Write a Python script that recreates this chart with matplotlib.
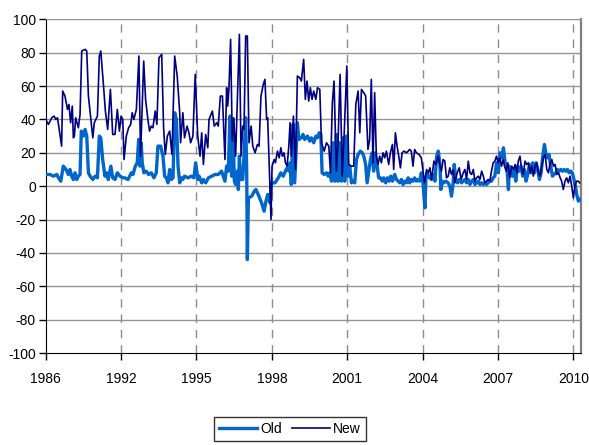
import matplotlib.pyplot as plt
import numpy as np

plt.rcParams['font.family'] = ['Liberation Sans', 'DejaVu Sans']
plt.rcParams['axes.unicode_minus'] = False

# months since start of series (x) and values
old_m = [0, 2.1, 3.7, 5.3, 6.1, 7.2, 8.4, 9.7, 10.8, 11.6, 12.4, 13.2, 14.0, 14.8, 15.6, 16.4,
         17.0, 18.0, 18.8, 19.6, 20.4, 21.2, 22.5, 23.6, 24.7, 25.6, 26.3, 27.2, 28.3, 29.1,
         29.9, 31.1, 32.0, 33.1, 34.2, 35.5, 36.8, 37.7, 39.3, 40.9, 41.7, 42.8, 43.7, 44.4,
         45.0, 45.6, 46.1, 46.9, 48.0, 49.2, 50.4, 51.7, 52.8, 53.6, 54.9, 56.0, 56.8, 57.6,
         58.4, 59.2, 60.0, 60.8, 61.6, 62.4, 63.2, 64.0, 64.8, 65.5, 66.3, 67.9, 69.5, 70.8,
         71.6, 72.7, 73.2, 74.5, 75.3, 76.4, 77.7, 79.3, 80.9, 82.4, 84.0, 84.8, 85.6, 86.4,
         87.2, 88.0, 88.8, 89.3, 90.1, 90.7, 91.5, 92.0, 92.5, 93.1, 94.1, 94.7, 95.5, 96.0,
         96.3, 96.8, 98.4, 99.6, 100.4, 101.5, 103.1, 104.3, 105.2, 106.0, 107.1, 107.9,
         109.5, 111.1, 112.3, 113.4, 114.5, 115.3, 116.1, 116.7, 117.3, 118.1, 118.9, 120.2,
         120.9, 122.1, 122.9, 123.7, 125.0, 126.1, 126.9, 128.0, 129.0, 129.8, 130.6, 131.4,
         132.0, 133.0, 134.1, 134.9, 135.7, 136.5, 137.3, 138.1, 138.8, 139.6, 140.4, 141.2,
         142.0, 142.8, 143.6, 144.4, 145.2, 146.0, 146.8, 147.6, 148.4, 149.2, 150.3, 151.2,
         151.9, 152.8, 153.5, 154.4, 155.1, 155.9, 156.6, 157.4, 158.2, 159.0, 159.8, 160.8,
         161.4, 162.4, 163.2, 164.0, 164.8, 165.6, 166.7, 167.5, 168.3, 169.1, 169.9, 170.7,
         171.5, 172.3, 173.1, 173.8, 174.6, 175.4, 176.2, 177.0, 177.8, 178.6, 179.4, 180.2,
         181.1, 181.6, 182.2, 183.2, 184.3, 185.1, 185.9, 186.7, 187.5, 188.3, 188.7, 189.4,
         190.2, 191.1, 192.2, 193.0, 193.8, 194.6, 195.1, 195.9, 196.7, 197.5, 198.6, 199.4,
         200.2, 201.0, 201.8, 202.6, 203.4, 204.2, 205.0, 205.8, 206.6, 207.4, 208.2, 209.0,
         209.7, 210.5, 211.3, 212.1, 212.9, 213.7, 214.5, 215.3, 216.2, 217.0, 217.8, 218.6,
         219.4, 220.2, 221.0, 221.4, 222.2, 222.9, 223.7, 224.5, 225.3, 226.1, 227.0, 227.8,
         228.6, 229.4, 230.2, 231.0, 231.8, 232.6, 233.4, 234.2, 235.0, 235.8, 236.6, 237.4,
         238.2, 238.8, 239.6, 240.4, 241.2, 242.0, 242.8, 243.6, 244.4, 245.2, 246.0, 246.8,
         247.6, 248.4, 249.2, 250.0, 250.8, 251.5, 252.3, 253.0, 253.6, 254.4, 255.0]
old_v = [7, 7, 6, 7, 5, 3, 12, 10, 7, 10, 6, 4, 8, 4, 6, 7,
         33, 30, 34, 30, 8, 6, 4, 6, 5, 30, 29, 16, 6, 8,
         4, 12, 5, 4, 8, 6, 5, 5, 4, 8, 7, 12, 14, 28,
         12, 26, 14, 8, 9, 7, 8, 5, 8, 24, 24, 18, 6, 5,
         2, 10, 4, 5, 44, 40, 12, 2, 5, 4, 6, 5, 6, 5,
         14, 4, 6, 2, 4, 2, 5, 6, 7, 7, 9, 6, 3, 12,
         9, 42, 6, 40, 3, 1, 9, -2, 18, 4, 4, 18, 41, 8,
         -44, -7, -6, -3, -2, -5, -10, -15, -9, -5, -10, 2,
         2, 5, 8, 6, 9, 11, 9, 14, 1, 37, 2, 38,
         28, 29, 31, 28, 30, 27, 29, 26, 30, 29, 32, 31,
         8, 7, 8, 6, 8, 3, 26, 3, 31, 3, 26, 3,
         29, 3, 30, 6, 12, 2, 3, 2, 16, 19, 21, 20,
         18, 13, 2, 10, 16, 20, 9, 20, 13, 5, 5, 3,
         5, 2, 5, 3, 6, 3, 7, 4, 3, 2, 4, 1,
         3, 2, 5, 2, 4, 3, 5, 3, 4, 3, 8, 2,
         -13, 5, 8, 5, 4, 7, 3, 18, 21, 13, -2, 3,
         2, 3, 2, 0, -6, 2, 13, 3, 2, 4, 2, 3,
         4, 2, 4, 1, 3, 4, 1, 2, 3, 1, 2, 1,
         2, 1, 2, 3, 3, 5, 6, 14, 8, 20, 17, 23,
         14, 12, -2, 12, 8, 6, 10, 3, 12, 9, 12, 6,
         10, 3, 7, 13, 8, 14, 8, 14, 10, 4, 8, 18,
         25, 20, 17, 19, 12, 6, 7, 8, 10, 9, 10, 9,
         10, 9, 10, 8, 9, 8, 4, 0, -5, -9, -8]

new_m = [0, 1.3, 2.9, 4.0, 4.8, 5.6, 6.1, 7.6, 8.1, 9.2, 10.4, 11.1, 11.9, 12.7, 13.2, 13.7,
         14.3, 15.6, 16.4, 17.2, 18.8, 19.6, 20.4, 22.5, 23.2, 24.7, 25.6, 26.3, 27.5, 28.5,
         29.6, 30.9, 32.0, 33.1, 34.2, 35.2, 36.0, 36.8, 37.4, 38.5, 39.6, 40.6, 41.3, 42.1,
         43.3, 44.5, 45.3, 46.8, 47.7, 48.8, 49.6, 50.4, 51.2, 52.3, 53.1, 54.1, 55.4, 56.3,
         57.1, 58.1, 59.2, 60.3, 61.6, 62.8, 64.0, 64.4, 65.5, 66.3, 67.5, 68.4, 69.2, 70.3,
         71.4, 72.6, 73.7, 74.5, 75.3, 76.4, 77.4, 78.0, 79.6, 80.5, 81.7, 82.4, 83.4, 84.4,
         85.6, 86.4, 86.9, 87.5, 88.3, 89.1, 89.8, 90.7, 92.5, 93.3, 94.1, 94.7, 95.5, 96.3,
         97.1, 98.1, 98.9, 100.0, 101.1, 101.9, 102.8, 103.9, 104.7, 105.5, 106.0, 107.6,
         108.1, 109.1, 109.7, 110.7, 111.5, 112.3, 113.0, 113.8, 114.5, 115.3, 116.1, 116.7,
         117.3, 118.3, 119.3, 120.2, 121.3, 122.1, 123.2, 124.0, 124.8, 125.6, 126.4, 127.2,
         128.0, 129.0, 129.8, 130.9, 131.7, 133.0, 134.1, 135.2, 136.0, 136.9, 137.7, 138.8,
         139.6, 140.6, 141.6, 142.5, 143.8, 144.7, 146.0, 147.1, 148.1, 149.2, 150.0, 150.8,
         151.9, 152.8, 153.9, 154.7, 155.5, 156.3, 157.1, 157.9, 158.7, 159.5, 160.3, 161.1,
         161.9, 162.7, 163.8, 164.6, 165.6, 166.2, 167.0, 167.8, 168.6, 169.4, 170.2, 171.1,
         172.3, 173.1, 173.8, 174.6, 175.4, 176.2, 177.0, 178.3, 179.4, 180.9, 181.9, 182.7,
         183.5, 184.3, 185.4, 186.3, 187.5, 188.3, 189.0, 189.8, 190.6, 191.4, 192.2, 193.0,
         193.8, 194.6, 195.4, 196.5, 197.5, 198.4, 199.4, 200.2, 201.0, 201.8, 202.6, 203.4,
         204.2, 205.0, 205.8, 206.6, 207.4, 208.2, 209.0, 209.7, 210.5, 211.3, 212.1, 212.9,
         213.7, 214.5, 215.3, 216.1, 216.9, 217.7, 218.5, 219.1, 219.9, 220.7, 221.6, 222.6,
         223.4, 224.2, 225.0, 225.7, 226.5, 227.3, 228.1, 228.9, 229.7, 230.5, 231.3, 232.1,
         232.9, 233.7, 234.5, 235.3, 236.1, 236.9, 237.7, 238.5, 239.3, 240.1, 240.9, 241.7,
         242.5, 243.3, 244.1, 244.9, 245.7, 246.4, 247.2, 248.0, 248.8, 249.6, 250.4, 251.2,
         252.0, 252.8, 253.6, 254.4, 255.0]
new_v = [40, 37, 41, 42, 40, 41, 37, 24, 57, 54, 46, 49, 38, 48, 29, 30,
         41, 35, 43, 81, 82, 81, 54, 29, 38, 42, 78, 81, 62, 45,
         34, 58, 31, 31, 46, 33, 42, 40, 16, 30, 35, 37, 44, 40,
         46, 78, 18, 75, 52, 40, 33, 36, 35, 45, 37, 77, 79, 35,
         19, 30, 33, 19, 78, 66, 44, 26, 44, 29, 36, 32, 26, 30,
         67, 30, 18, 32, 13, 31, 23, 40, 45, 36, 38, 36, 54, 54,
         16, 59, 48, 58, 88, 27, 41, 18, 91, 18, 36, 34, 90, 90,
         26, 36, 24, 20, 25, 24, 54, 61, 64, 40, 41, -20,
         12, 16, 14, 21, 17, 23, 18, 20, 14, 12, 24, 38,
         18, 42, 10, 66, 65, 63, 76, 52, 63, 51, 59, 52,
         57, 52, 59, 58, 26, 21, 26, 24, 8, 50, 63, 9,
         26, 67, 6, 30, 72, 13, 12, 12, 49, 57, 32, 58,
         56, 54, 22, 28, 64, 14, 56, 18, 13, 18, 14, 20,
         17, 21, 13, 20, 25, 10, 32, 24, 18, 11, 20, 21,
         20, 21, 22, 21, 12, 22, 20, 19, 17, 2, 10, 8,
         11, 4, 15, 13, 18, 12, 9, 16, 15, 5, 6, 11,
         7, 10, 2, 8, 11, 4, 8, 10, 4, 15, 8, 7,
         10, 3, 5, 6, 4, 9, 6, 2, 3, 4, 3, 9,
         14, 15, 18, 14, 17, 12, 16, 12, 9, 14, 5, 12,
         10, 13, 8, 15, 18, 10, 7, 15, 13, 14, 8, 12,
         6, 12, 14, 8, 6, 12, 17, 19, 10, 8, 14, 16,
         12, 13, 7, 8, 5, 3, -2, 3, 5, 2, 6, 0,
         -7, 1, 3, 3, 2]

tick_pos = [0, 36, 72, 108, 144, 180, 216, 252]
tick_lbl = ['1986', '1992', '1995', '1998', '2001', '2004', '2007', '2010']

fig = plt.figure(figsize=(5.89, 4.45), dpi=100)
ax = fig.add_axes([0.0776, 0.2067, 0.9083, 0.7499])

for y in range(-80, 101, 20):
    ax.axhline(y, color='#969696', lw=1.0, zorder=1)
for x in tick_pos[1:]:
    ax.axvline(x, color='#8c8c8c', lw=1.0, ls=(0, (6, 5)), zorder=1)

ax.plot(old_m, old_v, color='#0066CC', lw=2.4, label='Old', zorder=3)
ax.plot(new_m, new_v, color='#000080', lw=1.2, label='New', zorder=4)

ax.set_xlim(0, 255.5)
ax.set_ylim(-100, 100)
ax.set_yticks(np.arange(-100, 101, 20))
ax.set_xticks(tick_pos)
ax.set_xticklabels(tick_lbl)
ax.tick_params(axis='both', direction='out', length=5, width=1, labelsize=10, colors='black')
ax.tick_params(axis='x', pad=9)
ax.tick_params(axis='y', pad=2)

ax.spines['left'].set_color('black')
ax.spines['bottom'].set_color('black')
ax.spines['top'].set_color('#969696')
ax.spines['right'].set_color('#808080')
ax.spines['right'].set_linewidth(1.6)

leg = fig.legend(loc='upper center', bbox_to_anchor=(0.492, 1 - 417 / 445), ncol=2,
                 frameon=True, fancybox=False, edgecolor='black', fontsize=10,
                 handlelength=2.8, handletextpad=0.2, columnspacing=0.7,
                 borderpad=0.35, borderaxespad=0)
leg.get_frame().set_linewidth(1.0)

fig.savefig('out.png', dpi=100)
